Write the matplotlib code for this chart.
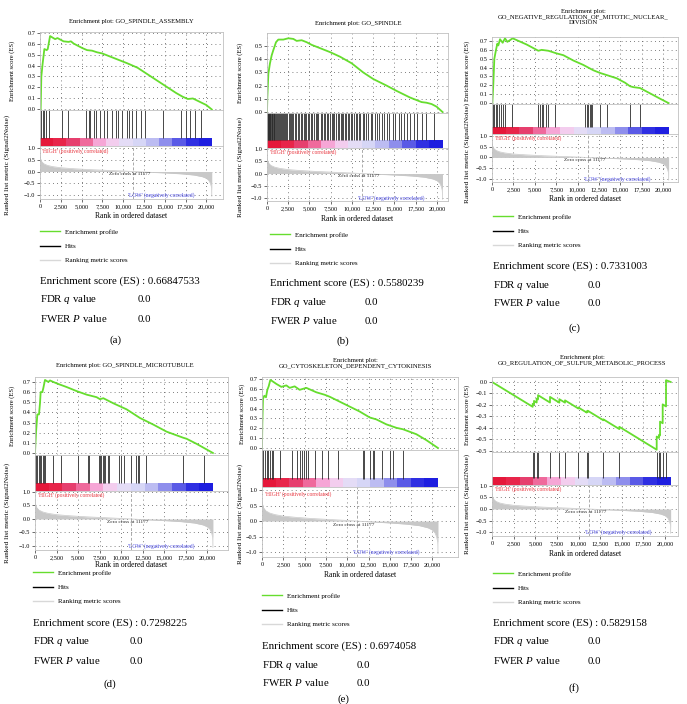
import numpy as np
import matplotlib
matplotlib.use('Agg')
import matplotlib.pyplot as plt
from matplotlib.colors import ListedColormap
from matplotlib.lines import Line2D

plt.rcParams['font.family'] = ['Liberation Serif', 'DejaVu Serif']
plt.rcParams['mathtext.fontset'] = 'custom'
plt.rcParams['mathtext.rm'] = 'Liberation Serif'
plt.rcParams['mathtext.it'] = 'Liberation Serif:italic'

W, H = 687, 704

# ---------------- data ----------------
N_GENES = 20650
ZERO_CROSS = 11177

# ranked list metric (shared by all panels)
rank_x = [0, 60, 200, 450, 900, 1500, 2500, 4000, 6000, 8000, 10000, 11177,
          13000, 15000, 17000, 18500, 19500, 20000, 20300, 20500, 20620, 20640, 20650]
rank_y = [0.72, 0.55, 0.42, 0.33, 0.26, 0.21, 0.16, 0.12, 0.08, 0.05, 0.02, 0.0,
          -0.03, -0.06, -0.10, -0.15, -0.22, -0.29, -0.38, -0.52, -0.68, -0.80, -1.05]

titles = [
    "Enrichment plot: GO_SPINDLE_ASSEMBLY",
    "Enrichment plot: GO_SPINDLE",
    "Enrichment plot:\nGO_NEGATIVE_REGULATION_OF_MITOTIC_NUCLEAR_\nDIVISION",
    "Enrichment plot: GO_SPINDLE_MICROTUBULE",
    "Enrichment plot:\nGO_CYTOSKELETON_DEPENDENT_CYTOKINESIS",
    "Enrichment plot:\nGO_REGULATION_OF_SULFUR_METABOLIC_PROCESS",
]
es_scores = ["0.66847533", "0.5580239", "0.7331003", "0.7298225", "0.6974058", "0.5829158"]
fdr_values = ["0.0", "0.0", "0.0", "0.0", "0.0", "0.0"]
fwer_values = ["0.0", "0.0", "0.0", "0.0", "0.0", "0.0"]
panel_labels = ["(a)", "(b)", "(c)", "(d)", "(e)", "(f)"]
legend_labels = ["Enrichment profile", "Hits", "Ranking metric scores"]
rank_tick_vals = [0, 2500, 5000, 7500, 10000, 12500, 15000, 17500, 20000]
rank_y_ticks = [-1.0, -0.5, 0.0, 0.5, 1.0]
rank_y_labels = ["\u22121.0", "\u22120.5", "0.0", "0.5", "1.0"]

es_a_x = [0, 80, 160, 320, 525, 810, 930, 1210, 1820, 2100, 2830, 3430, 3720, 4040, 5050, 5660,
          6260, 6870, 7470, 8480, 9490, 10500, 11720, 12930, 14340, 15350, 16360, 17170, 17780,
          18380, 19190, 20000, 20650]
es_a_y = [0, 0.0, 0.3, 0.42, 0.55, 0.54, 0.55, 0.668, 0.64, 0.65, 0.62, 0.615, 0.62, 0.60, 0.56,
          0.54, 0.535, 0.52, 0.51, 0.48, 0.45, 0.42, 0.38, 0.32, 0.25, 0.2, 0.15, 0.115, 0.095,
          0.1, 0.07, 0.04, 0.0]
hits_a = [80, 320, 525, 730, 1130, 2630, 3310, 5575, 5860, 6060, 6460, 6790, 7270, 7680, 8080,
          8600, 9090, 9370, 9900, 10420, 10710, 11110, 11520, 12120, 12650, 14750, 16970, 17580,
          17980, 18590, 19390]

es_b_x = [0, 40, 160, 350, 550, 745, 1060, 1330, 1920, 2510, 3100, 3490, 4080, 4670, 5250, 6040,
          7410, 8590, 9960, 11330, 12510, 14080, 15250, 16820, 18190, 18780, 19370, 19960, 20650]
es_b_y = [0, 0.11, 0.29, 0.37, 0.43, 0.47, 0.53, 0.55, 0.55, 0.56, 0.555, 0.54, 0.545, 0.53, 0.51,
          0.49, 0.455, 0.42, 0.37, 0.30, 0.25, 0.20, 0.16, 0.11, 0.075, 0.07, 0.06, 0.04, 0.0]
hits_b = [0, 40, 90, 150, 210, 260, 330, 400, 470, 540, 610, 700, 790, 880, 960, 1080, 1180, 1300,
          1420, 1500, 1650, 1780, 1860, 2000, 2150, 2230, 2400, 2560, 2700, 2780, 2950, 3100, 3300,
          3420, 3600, 3750, 3980, 4150, 4300, 4480, 4600, 4820, 4950, 5200, 5350, 5500, 5720, 5900,
          6050, 6300, 6420, 6650, 6800, 7050, 7200, 7380, 7600, 7750, 7900, 8100, 8300, 8420, 8650,
          8800, 9000, 9150, 9300, 9550, 9700, 9850, 10050, 10200, 10450, 10600, 10800, 11000, 11250,
          11450, 11700, 11900, 12200, 12400, 12700, 13000, 13200, 13550, 13800, 14100, 14400, 14800,
          15100, 15500, 15750, 16100, 16500, 16850, 17300, 17700, 18200, 18700, 19700]

es_c_x = [0, 40, 156, 273, 468, 624, 740, 936, 1248, 1520, 1793, 2105, 2417, 2885, 4055, 4834, 5419,
          5809, 6588, 7563, 8343, 9512, 10682, 11851, 12632, 13606, 14581, 15556, 16140, 16530,
          17310, 18480, 19650, 20650]
es_c_y = [0, 0.0, 0.22, 0.5, 0.6, 0.67, 0.65, 0.72, 0.68, 0.73, 0.69, 0.71, 0.73, 0.71, 0.66, 0.62,
          0.59, 0.6, 0.59, 0.56, 0.54, 0.48, 0.43, 0.37, 0.34, 0.31, 0.28, 0.23, 0.19, 0.18, 0.17,
          0.11, 0.05, 0.0]
hits_c = [156, 273, 429, 624, 858, 1014, 1248, 1520, 2300, 5419, 5614, 5809, 6004, 6316, 6588, 7368,
          10877, 11072, 11267, 11462, 11579, 11735, 12632, 13411, 16140, 17310]

es_d_x = [0, 116, 271, 464, 580, 657, 851, 967, 1160, 1354, 1547, 1740, 2127, 2707, 3674, 4834, 5994,
          7154, 7541, 7928, 9088, 10634, 12181, 13728, 15275, 17208, 17595, 18755, 20650]
es_d_y = [0, 0.2, 0.38, 0.38, 0.49, 0.6, 0.6, 0.64, 0.72, 0.71, 0.70, 0.715, 0.70, 0.68, 0.65, 0.61,
          0.575, 0.55, 0.53, 0.54, 0.49, 0.43, 0.345, 0.28, 0.21, 0.15, 0.14, 0.09, 0.0]
hits_d = [23, 139, 255, 449, 580, 696, 890, 1006, 1160, 2050, 3016, 4950, 6110, 6303, 7463, 7579,
          7695, 7850, 7966, 8159, 8430, 8623, 9783, 9977, 10363, 11137, 11717, 11910, 12103, 12877,
          17130, 19640]

es_e_x = [0, 39, 117, 274, 469, 626, 782, 978, 1174, 1682, 2269, 2856, 3247, 3834, 4421, 5203, 6377,
          7355, 7942, 9116, 10290, 11463, 12637, 13419, 14593, 15767, 16549, 17332, 18114, 19288, 20650]
es_e_y = [0, 0.25, 0.5, 0.53, 0.515, 0.59, 0.625, 0.69, 0.68, 0.65, 0.62, 0.635, 0.61, 0.625, 0.59,
          0.61, 0.565, 0.54, 0.52, 0.47, 0.42, 0.37, 0.31, 0.29, 0.24, 0.205, 0.19, 0.165, 0.14, 0.08, 0.0]
hits_e = [39, 156, 352, 548, 665, 939, 1135, 1330, 2113, 3482, 4069, 4460, 4656, 4930, 5164, 5438,
          6221, 7003, 7785, 8959, 11893, 12011, 12676, 12989, 13145, 14045, 15023, 15415, 16588]

es_f_x = [0, 4701, 4701, 4855, 4855, 5164, 5164, 5318, 5318, 6705, 6705, 7784, 7784, 8439, 8439,
          9981, 9981, 10944, 10944, 11060, 11060, 12871, 12871, 14721, 14721, 19037, 19037, 19306,
          19306, 19422, 19422, 19730, 19730, 20116, 20116, 20650]
es_f_y = [0, -0.216, -0.19, -0.197, -0.165, -0.179, -0.145, -0.152, -0.115, -0.179, -0.13, -0.18,
          -0.15, -0.18, -0.16, -0.231, -0.222, -0.266, -0.256, -0.261, -0.25, -0.333, -0.325, -0.41,
          -0.39, -0.589, -0.475, -0.487, -0.46, -0.465, -0.345, -0.359, -0.195, -0.213, 0.015, 0.0]
hits_f = [4701, 4855, 5164, 5318, 6705, 7784, 8439, 9981, 10944, 11060, 12871, 14721, 19037, 19306,
          19422, 19730, 20116]

es_ticks_std = [0.0, 0.1, 0.2, 0.3, 0.4, 0.5, 0.6, 0.7]
es_ticks_b = [0.0, 0.1, 0.2, 0.3, 0.4, 0.5]
es_ticks_f = [0.0, -0.1, -0.2, -0.3, -0.4, -0.5, -0.6]
es_labels_f = ["0.0", "\u22120.1", "\u22120.2", "\u22120.3", "\u22120.4", "\u22120.5", "\u22120.5"]

# ---------------- layout (pixels) ----------------
layouts = [
    dict(l=40, r=223, es_t=32, es_b=110, hits_b=146, rk_b=199, es_lim=(-0.005, 0.705),
         rk_lim=(-1.17, 1.085), xmax=22000, title=(131, 22), ylab_es=12, ylab_rk=7,
         xlab_y=216, leg_y=233, stat_x=40, stat_y=280, val_x=138, lab=(115, 340)),
    dict(l=267, r=448, es_t=33, es_b=113, hits_b=148, rk_b=201, es_lim=(-0.008, 0.6),
         rk_lim=(-1.12, 1.04), xmax=21300, title=(358, 24), ylab_es=240, ylab_rk=240,
         xlab_y=219, leg_y=236, stat_x=270, stat_y=282, val_x=365, lab=(343, 341)),
    dict(l=492, r=678, es_t=37, es_b=104, hits_b=134, rk_b=182, es_lim=(-0.01, 0.745),
         rk_lim=(-1.14, 1.09), xmax=21750, title=(583, 17), ylab_es=467, ylab_rk=467,
         xlab_y=199, leg_y=218, stat_x=493, stat_y=265, val_x=588, lab=(574, 328)),
    dict(l=35, r=228, es_t=377, es_b=455, hits_b=491, rk_b=550, es_lim=(-0.02, 0.749),
         rk_lim=(-1.15, 1.037), xmax=22400, title=(125, 366), ylab_es=12, ylab_rk=7,
         xlab_y=565, leg_y=574, stat_x=33, stat_y=622, val_x=130, lab=(110, 684)),
    dict(l=262, r=458, es_t=377, es_b=450, hits_b=487, rk_b=557, es_lim=(-0.02, 0.72),
         rk_lim=(-1.16, 1.1), xmax=23000, title=(355, 363), ylab_es=242, ylab_rk=240,
         xlab_y=575, leg_y=597, stat_x=262, stat_y=645, val_x=357, lab=(343, 699)),
    dict(l=492, r=678, es_t=377, es_b=452, hits_b=485, rk_b=536, es_lim=(-0.609, 0.043),
         rk_lim=(-1.17, 1.04), xmax=21500, title=(582, 360), ylab_es=467, ylab_rk=467,
         xlab_y=554, leg_y=575, stat_x=493, stat_y=622, val_x=588, lab=(574, 688)),
]

es_data = [(es_a_x, es_a_y), (es_b_x, es_b_y), (es_c_x, es_c_y),
           (es_d_x, es_d_y), (es_e_x, es_e_y), (es_f_x, es_f_y)]
hits_data = [hits_a, hits_b, hits_c, hits_d, hits_e, hits_f]
es_tick_sets = [(es_ticks_std, None), (es_ticks_b, None), (es_ticks_std, None),
                (es_ticks_std, None), (es_ticks_std, None), (es_ticks_f, es_labels_f)]

bar_colors = ['#e5173a', '#e8254a', '#e63f6e', '#ef6a9c', '#f6a6d6', '#f3cdee', '#e4dcf6',
              '#d6d6f6', '#bcbcf2', '#8e8eec', '#5a5ae6', '#2f2fe2', '#1e1ee0']

GREEN = '#66dd2e'
SPINE = '#c0c0c0'
GRID = dict(linestyle=(0, (1, 4)), color='#555555', linewidth=0.6)
STAT_FS = 7.8

fig = plt.figure(figsize=(W / 100, H / 100), dpi=100)


def add_ax(l, t, r, b):
    return fig.add_axes([l / W, 1 - b / H, (r - l) / W, (b - t) / H])


def style(ax):
    for s in ax.spines.values():
        s.set_color(SPINE)
        s.set_linewidth(0.6)
    ax.tick_params(labelsize=4.5, length=2, width=0.5, pad=1.5, color='#333333')


for i, L in enumerate(layouts):
    xs, ys = es_data[i]
    # ---- ES axes
    ax = add_ax(L['l'], L['es_t'], L['r'], L['es_b'])
    style(ax)
    ax.plot(xs, ys, color=GREEN, lw=1.3, solid_joinstyle='round')
    ax.set_xlim(0, L['xmax'])
    ax.set_ylim(*L['es_lim'])
    ticks, labels = es_tick_sets[i]
    ax.set_yticks(ticks)
    if labels is None:
        labels = [f"{t:.1f}" for t in ticks]
    ax.set_yticklabels(labels)
    ax.set_xticks(rank_tick_vals)
    ax.tick_params(axis='x', length=0, labelbottom=False)
    ax.grid(True, **GRID)
    ax.set_axisbelow(True)

    # ---- hits + colour bar axes
    axh = add_ax(L['l'], L['es_b'], L['r'], L['hits_b'])
    style(axh)
    frac = 0.22
    axh.vlines(hits_data[i], frac, 1, color='#2a2a2a', lw=0.6)
    axh.imshow(np.arange(len(bar_colors))[None, :], cmap=ListedColormap(bar_colors),
               aspect='auto', extent=(0, N_GENES, 0, frac), interpolation='nearest')
    axh.set_xlim(0, L['xmax'])
    axh.set_ylim(0, 1)
    axh.set_xticks([])
    axh.set_yticks([])

    # ---- ranked list axes
    axr = add_ax(L['l'], L['hits_b'], L['r'], L['rk_b'])
    style(axr)
    axr.fill_between(rank_x, 0, rank_y, color='#c8c8c8', lw=0)
    axr.plot(rank_x, rank_y, color='#c8c8c8', lw=0.5)
    axr.axvline(ZERO_CROSS, color='#aaaaaa', lw=0.7, linestyle=(0, (3, 2)))
    axr.set_xlim(0, L['xmax'])
    axr.set_ylim(*L['rk_lim'])
    axr.set_yticks(rank_y_ticks)
    axr.set_yticklabels(rank_y_labels)
    axr.set_xticks(rank_tick_vals)
    axr.set_xticklabels([f"{v:,}" for v in rank_tick_vals])
    axr.grid(True, **GRID)
    axr.set_axisbelow(True)
    axr.text(300, 0.88, "'HIGH' (positively correlated)", color='#e8303a', fontsize=4,
             ha='left', va='center')
    axr.text(14600, -1.0, "'LOW' (negatively correlated)", color='#4646e0', fontsize=4,
             ha='center', va='center')
    axr.text(10800, -0.12, "Zero cross at 11177", color='#222222', fontsize=3.8,
             ha='center', va='center')

    # ---- texts
    tx, ty = L['title']
    fig.text(tx / W, 1 - ty / H, titles[i], ha='center', va='center', fontsize=4.8,
             linespacing=1.2)
    fig.text(L['ylab_es'] / W, 1 - (L['es_t'] + L['es_b']) / 2 / H, "Enrichment score (ES)",
             rotation=90, ha='center', va='center', fontsize=4.8)
    fig.text(L['ylab_rk'] / W, 1 - (L['es_b'] + L['rk_b'] + 20) / 2 / H,
             "Ranked list metric (Signal2Noise)", rotation=90, ha='center', va='center',
             fontsize=5.2)
    fig.text((L['l'] + L['r']) / 2 / W, 1 - L['xlab_y'] / H, "Rank in ordered dataset",
             ha='center', va='center', fontsize=5.5)

    handles = [Line2D([], [], color=GREEN, lw=1.0), Line2D([], [], color='black', lw=1.0),
               Line2D([], [], color='#d8d8d8', lw=1.0)]
    fig.legend(handles=handles, labels=legend_labels, loc='upper left',
               bbox_to_anchor=(L['stat_x'] / W, 1 - (L['leg_y'] - 4) / H), frameon=False,
               fontsize=5, labelspacing=1.2, handlelength=2.9, handletextpad=0.7,
               borderpad=0, borderaxespad=0)

    sx, sy = L['stat_x'], L['stat_y']
    base = 3.5
    fig.text(sx / W, 1 - (sy + base) / H, f"Enrichment score (ES) : {es_scores[i]}",
             va='baseline', fontsize=STAT_FS)
    fig.text(sx / W, 1 - (sy + 19 + base) / H, "FDR $q$ value", va='baseline', fontsize=STAT_FS)
    fig.text(L['val_x'] / W, 1 - (sy + 19 + base) / H, fdr_values[i], va='baseline',
             fontsize=STAT_FS)
    fig.text(sx / W, 1 - (sy + 38 + base) / H, "FWER $P$ value", va='baseline', fontsize=STAT_FS)
    fig.text(L['val_x'] / W, 1 - (sy + 38 + base) / H, fwer_values[i], va='baseline',
             fontsize=STAT_FS)
    lx, ly = L['lab']
    fig.text(lx / W, 1 - ly / H, panel_labels[i], ha='center', va='center', fontsize=STAT_FS)

fig.savefig('out.png', dpi=100)
